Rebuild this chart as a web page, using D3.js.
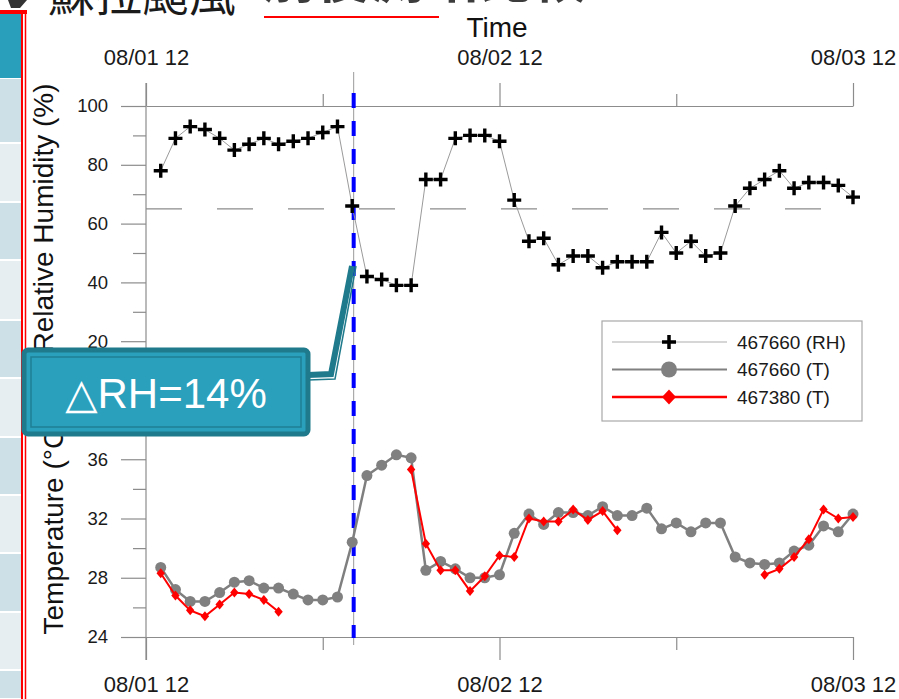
<!DOCTYPE html>
<html>
<head>
<meta charset="utf-8">
<script src="https://cdn.jsdelivr.net/npm/d3@7"></script>
<style>
  body { margin: 0; background: #fff; }
  svg { display: block; font-family: "Liberation Sans", Arial, sans-serif; }
  .axis .tick line, .axis .domain { stroke: #8c8c8c; stroke-width: 1.2px; }
  .axis text { fill: #1a1a1a; }
</style>
</head>
<body>
<div id="chart-area"></div>
<script>
const WIDTH = 899
const HEIGHT = 699

// time axis (hourly obs, first one at 08/01 13:00)
const startTime = new Date(2012, 7, 1, 12)
const xTicks = [new Date(2012, 7, 1, 12), new Date(2012, 7, 2, 12), new Date(2012, 7, 3, 12)]
const xMinorTicks = [new Date(2012, 7, 2, 0), new Date(2012, 7, 3, 0)]
const rhTicks = [20, 40, 60, 80, 100]
const rhMinorTicks = [30, 50, 70, 90]
const tTicks = [24, 28, 32, 36]
const tMinorTicks = [26, 30, 34]
const rhReference = 65
const markHour = 14.1
const seriesNames = ["467660 (RH)", "467660 (T)", "467380 (T)"]

// 467660 relative humidity (%)
const rh467660 = [78, 89, 93, 92, 89, 85, 87, 89, 87, 88, 89, 91, 93, 66, 42, 41,
  39, 39, 75, 75, 89, 90, 90, 88, 68, 54, 55, 46, 49, 49, 45, 47,
  47, 47, 57, 50, 54, 49, 50, 66, 72, 75, 78, 72, 74, 74, 73, 69]
// 467660 temperature (C)
const t467660 = [28.7, 27.2, 26.4, 26.4, 27.0, 27.7, 27.8, 27.3, 27.3, 26.9, 26.5, 26.5, 26.7, 30.4, 34.9, 35.6,
  36.3, 36.1, 28.5, 29.1, 28.6, 28.0, 28.0, 28.2, 31.0, 32.3, 31.6, 32.4, 32.4, 32.2, 32.8, 32.2,
  32.2, 32.7, 31.3, 31.7, 31.1, 31.7, 31.7, 29.4, 29.0, 28.9, 29.0, 29.8, 30.2, 31.5, 31.1, 32.3]
// 467380 temperature (C), gaps = missing
const t467380 = [28.3, 26.8, 25.8, 25.4, 26.2, 27.0, 26.9, 26.5, 25.7, null, null, null, null, null, null, null,
  null, 35.3, 30.3, 28.5, 28.5, 27.1, 28.1, 29.5, 29.4, 32.0, 31.8, 31.8, 32.6, 31.9, 32.5, 31.2,
  null, null, null, null, null, null, null, null, null, 28.2, 28.6, 29.4, 30.6, 32.6, 32.0, 32.1]

const times = rh467660.map((d, i) => d3.timeHour.offset(startTime, i + 1))

const svg = d3.select("#chart-area").append("svg")
  .attr("width", WIDTH)
  .attr("height", HEIGHT)

// slide leftovers: table strip + title
const strip = svg.append("g")
const rowEdges = [78, 143, 202, 260, 320, 378, 437, 495, 553, 612, 670, 699]
strip.append("rect").attr("x", 0).attr("y", 14).attr("width", 22).attr("height", 64).attr("fill", "#2a9fbc")
for (let i = 0; i < rowEdges.length - 1; i++) {
  strip.append("rect")
    .attr("x", 0).attr("y", rowEdges[i] + 1)
    .attr("width", 22).attr("height", rowEdges[i + 1] - rowEdges[i] - 2)
    .attr("fill", i % 2 === 0 ? "#cde0e8" : "#e6eef2")
}
strip.append("rect").attr("x", 0).attr("y", 10).attr("width", 27).attr("height", 4).attr("fill", "#ff0000")
strip.append("line").attr("x1", 22).attr("x2", 22).attr("y1", 10).attr("y2", HEIGHT)
  .attr("stroke", "#ff0000").attr("stroke-width", 2)
strip.append("line").attr("x1", 25.5).attr("x2", 25.5).attr("y1", 10).attr("y2", HEIGHT)
  .attr("stroke", "#ff0000").attr("stroke-width", 1.5)
svg.append("path").attr("d", "M8,0L27,0L20,8L11,8Z").attr("fill", "#333")

svg.append("text")
  .attr("x", 48).attr("y", 11)
  .attr("font-family", "Noto Sans CJK TC")
  .attr("font-size", 47).attr("fill", "#1a1a1a")
  .text("蘇拉颱風")
svg.append("text")
  .attr("x", 262).attr("y", -2)
  .attr("font-family", "Noto Sans CJK TC")
  .attr("font-weight", "bold")
  .attr("font-size", 54).attr("fill", "#3c3c3c")
  .text("前後測站比較")
svg.append("line").attr("x1", 264).attr("x2", 439).attr("y1", 17).attr("y2", 17)
  .attr("stroke", "#ff0000").attr("stroke-width", 2)

// scales
const x = d3.scaleTime()
  .domain([xTicks[0], xTicks[2]])
  .range([146, 853])
const yRH = d3.scaleLinear().domain([0, 100]).range([400, 106])
const yT = d3.scaleLinear().domain([24, 40]).range([637, 400])
const fmt = d3.timeFormat("%m/%d %H")

// axes
const topAxis = svg.append("g").attr("class", "axis")
  .attr("transform", "translate(0,106)")
  .call(d3.axisTop(x).tickValues(xTicks).tickSize(23).tickSizeOuter(0).tickPadding(18).tickFormat(fmt))
topAxis.selectAll("text").attr("font-size", 22)
svg.append("g").attr("class", "axis")
  .attr("transform", "translate(0,106)")
  .call(d3.axisTop(x).tickValues(xMinorTicks).tickSize(12).tickFormat(""))
  .select(".domain").remove()

const bottomAxis = svg.append("g").attr("class", "axis")
  .attr("transform", "translate(0,637)")
  .call(d3.axisBottom(x).tickValues(xTicks).tickSize(23).tickSizeOuter(0).tickPadding(16).tickFormat(fmt))
bottomAxis.selectAll("text").attr("font-size", 22)
svg.append("g").attr("class", "axis")
  .attr("transform", "translate(0,637)")
  .call(d3.axisBottom(x).tickValues(xMinorTicks).tickSize(13).tickFormat(""))
  .select(".domain").remove()

const rhAxis = svg.append("g").attr("class", "axis")
  .attr("transform", "translate(146,0)")
  .call(d3.axisLeft(yRH).tickValues(rhTicks).tickSize(25).tickPadding(13))
rhAxis.select(".domain").remove()
rhAxis.selectAll("text").attr("font-size", 18.5)
svg.append("g").attr("class", "axis")
  .attr("transform", "translate(146,0)")
  .call(d3.axisLeft(yRH).tickValues(rhMinorTicks).tickSize(13).tickFormat(""))
  .select(".domain").remove()

const tAxis = svg.append("g").attr("class", "axis")
  .attr("transform", "translate(146,0)")
  .call(d3.axisLeft(yT).tickValues(tTicks).tickSize(25).tickPadding(13))
tAxis.select(".domain").remove()
tAxis.selectAll("text").attr("font-size", 18.5)
svg.append("g").attr("class", "axis")
  .attr("transform", "translate(146,0)")
  .call(d3.axisLeft(yT).tickValues(tMinorTicks).tickSize(13).tickFormat(""))
  .select(".domain").remove()

// left axis line
svg.append("line")
  .attr("x1", 146).attr("x2", 146).attr("y1", 83).attr("y2", 660)
  .attr("stroke", "#8c8c8c").attr("stroke-width", 1.2)

// axis titles
svg.append("text")
  .attr("x", 497).attr("y", 37)
  .attr("text-anchor", "middle").attr("font-size", 28).attr("fill", "#111")
  .text("Time")
svg.append("text")
  .attr("transform", "translate(53,218) rotate(-90)")
  .attr("text-anchor", "middle").attr("font-size", 28).attr("fill", "#111")
  .text("Relative Humidity (%)")
svg.append("text")
  .attr("transform", "translate(63,527) rotate(-90)")
  .attr("text-anchor", "middle").attr("font-size", 28).attr("fill", "#111")
  .text("Temperature (\u00B0C)")

// RH reference line
svg.append("line")
  .attr("x1", x(xTicks[0])).attr("x2", x(xTicks[2]))
  .attr("y1", yRH(rhReference)).attr("y2", yRH(rhReference))
  .attr("stroke", "#8c8c8c").attr("stroke-width", 1.2)
  .attr("stroke-dasharray", "36,35")

// marker line at typhoon passage
const markTime = d3.timeMinute.offset(startTime, Math.round(markHour * 60))
svg.append("line")
  .attr("x1", x(markTime)).attr("x2", x(markTime)).attr("y1", 72).attr("y2", 645)
  .attr("stroke", "#9a9a9a").attr("stroke-width", 1)
svg.append("line")
  .attr("x1", x(markTime)).attr("x2", x(markTime)).attr("y1", 93).attr("y2", 638)
  .attr("stroke", "#0000ff").attr("stroke-width", 4)
  .attr("stroke-dasharray", "15,13")

// RH series
const rhData = times.map((t, i) => ({ t: t, v: rh467660[i] }))
svg.append("path")
  .attr("fill", "none").attr("stroke", "#9a9a9a").attr("stroke-width", 1)
  .attr("d", d3.line().x(d => x(d.t)).y(d => yRH(d.v))(rhData))
const plusPath = "M-7,0H7M0,-7V7"
svg.append("g").selectAll("path")
  .data(rhData)
  .enter().append("path")
  .attr("transform", d => `translate(${x(d.t)},${yRH(d.v)})`)
  .attr("d", plusPath)
  .attr("stroke", "#000").attr("stroke-width", 3.4)

// temperature series
const grayData = times.map((t, i) => ({ t: t, v: t467660[i] }))
const redData = times.map((t, i) => ({ t: t, v: t467380[i] }))
const tLine = d3.line()
  .defined(d => d.v !== null)
  .x(d => x(d.t))
  .y(d => yT(d.v))

svg.append("path")
  .attr("fill", "none").attr("stroke", "#7f7f7f").attr("stroke-width", 2.5)
  .attr("d", tLine(grayData))
svg.append("g").selectAll("circle")
  .data(grayData)
  .enter().append("circle")
  .attr("cx", d => x(d.t)).attr("cy", d => yT(d.v))
  .attr("r", 5.5).attr("fill", "#808080")

const diamondPath = "M0,-5L4.2,0L0,5L-4.2,0Z"
svg.append("path")
  .attr("fill", "none").attr("stroke", "#ff0000").attr("stroke-width", 2)
  .attr("d", tLine(redData))
svg.append("g").selectAll("path")
  .data(redData.filter(d => d.v !== null))
  .enter().append("path")
  .attr("transform", d => `translate(${x(d.t)},${yT(d.v)})`)
  .attr("d", diamondPath)
  .attr("fill", "#ff0000")

// legend
const legend = svg.append("g").attr("transform", "translate(602,321)")
legend.append("rect")
  .attr("width", 260).attr("height", 100)
  .attr("fill", "#fff").attr("stroke", "#a8a8a8").attr("stroke-width", 1.2)
const legendStyles = [
  { line: "#c8c8c8", w: 1.5 },
  { line: "#808080", w: 2 },
  { line: "#ff0000", w: 2.5 }
]
const legendRows = legend.selectAll(".row")
  .data(seriesNames)
  .enter().append("g")
  .attr("class", "row")
  .attr("transform", (d, i) => `translate(0,${21 + i * 27.5})`)
legendRows.append("line")
  .attr("x1", 10).attr("x2", 125)
  .attr("stroke", (d, i) => legendStyles[i].line)
  .attr("stroke-width", (d, i) => legendStyles[i].w)
legendRows.filter((d, i) => i === 0).append("path")
  .attr("transform", "translate(67,0)")
  .attr("d", "M-7,0H7M0,-7V7").attr("stroke", "#000").attr("stroke-width", 3.5)
legendRows.filter((d, i) => i === 1).append("circle")
  .attr("cx", 67).attr("r", 8).attr("fill", "#808080")
legendRows.filter((d, i) => i === 2).append("path")
  .attr("transform", "translate(67,0)")
  .attr("d", "M0,-7.5L7,0L0,7.5L-7,0Z").attr("fill", "#ff0000")
legendRows.append("text")
  .attr("x", 135).attr("dy", "0.35em")
  .attr("font-size", 19).attr("fill", "#1a1a1a")
  .text(d => d)

// callout
const callout = svg.append("g")
callout.append("path")
  .attr("d", "M308,375L331,374L352,266")
  .attr("fill", "none").attr("stroke", "#1f7a8c").attr("stroke-width", 6)
callout.append("path")
  .attr("d", "M308,380L335,379L356,266")
  .attr("fill", "none").attr("stroke", "#1f7a8c").attr("stroke-width", 1.5)
callout.append("rect")
  .attr("x", 24).attr("y", 350).attr("width", 284).attr("height", 84)
  .attr("rx", 4).attr("fill", "#2ba0bd")
  .attr("stroke", "#1f7a8c").attr("stroke-width", 5)
callout.append("rect")
  .attr("x", 31).attr("y", 357).attr("width", 270).attr("height", 70)
  .attr("fill", "none").attr("stroke", "#1f7f94").attr("stroke-width", 1.5)
callout.append("text")
  .attr("x", 166).attr("y", 408)
  .attr("text-anchor", "middle")
  .attr("font-family", "'Liberation Sans', 'DejaVu Sans', sans-serif")
  .attr("font-size", 42).attr("fill", "#fff")
  .text("\u25B3RH=14%")
</script>
</body>
</html>
